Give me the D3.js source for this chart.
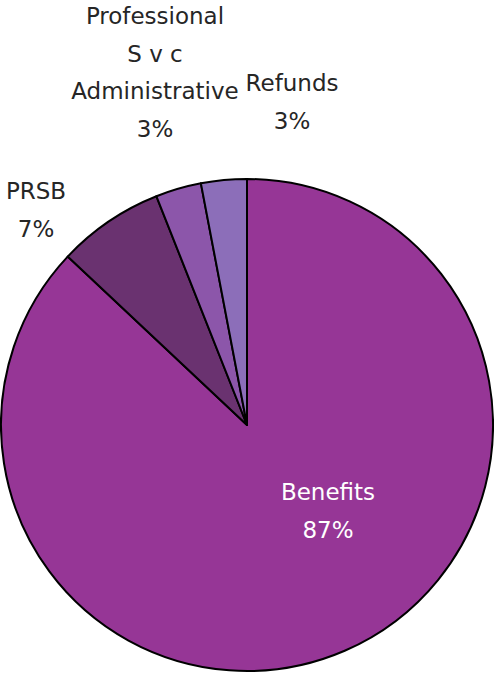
<!DOCTYPE html>
<html>
<head>
<meta charset="utf-8">
<script src="https://cdn.jsdelivr.net/npm/d3@7"></script>
<style>
  html, body { margin: 0; padding: 0; background: #fff; }
  svg { display: block; }
  text { font-family: "DejaVu Sans", sans-serif; font-size: 23px; }
</style>
</head>
<body>
<svg id="chart" width="494" height="674"></svg>
<script>
// Spending by category (share of total)
const categories = ["Benefits", "PRSB", "Professional Svc", "Administrative", "Refunds"];
const values = [87, 7, 0, 3, 3];
const colors = ["#963696", "#6A3270", "#7E4A9A", "#8C56AA", "#8C6EB9"];

// Label anchors (centre of the first line, baseline) for each category
const labelAnchors = [
  [328, 500], [36, 199], [155, 24], [155, 99], [292, 91]
];
const labelColors = ["#ffffff", "#262626", "#262626", "#262626", "#262626"];
const lineGap = 38;

const width = 494, height = 674;
const cx = 247, cy = 425, radius = 246;

const svg = d3.select("#chart");
const g = svg.append("g").attr("transform", `translate(${cx},${cy})`);

const pie = d3.pie().sort(null).value(d => d.value);
const arc = d3.arc().innerRadius(0).outerRadius(radius);

const data = categories.map((c, i) => ({ name: c, value: values[i], i }));
const arcs = pie(data);
const total = d3.sum(values);
const pct = d3.format(".0%");

g.selectAll("path")
  .data(arcs.filter(a => a.data.value > 0))
  .join("path")
  .attr("d", arc)
  .attr("fill", d => colors[d.data.i])
  .attr("stroke", "#000")
  .attr("stroke-width", 2)
  .attr("stroke-linejoin", "round");

// Category labels with wrapped names and percentage line
const wrap = {
  "Professional Svc": ["Professional", "S v c"]
};

const labels = svg.append("g");
arcs.forEach(a => {
  const i = a.data.i;
  const [x, y] = labelAnchors[i];
  const lines = (wrap[a.data.name] || [a.data.name]).slice();
  if (a.data.value > 0) lines.push(pct(a.data.value / total));
  const t = labels.append("text")
    .attr("text-anchor", "middle")
    .attr("fill", labelColors[i]);
  lines.forEach((ln, k) => {
    t.append("tspan").attr("x", x).attr("y", y + k * lineGap).text(ln);
  });
});
</script>
</body>
</html>
